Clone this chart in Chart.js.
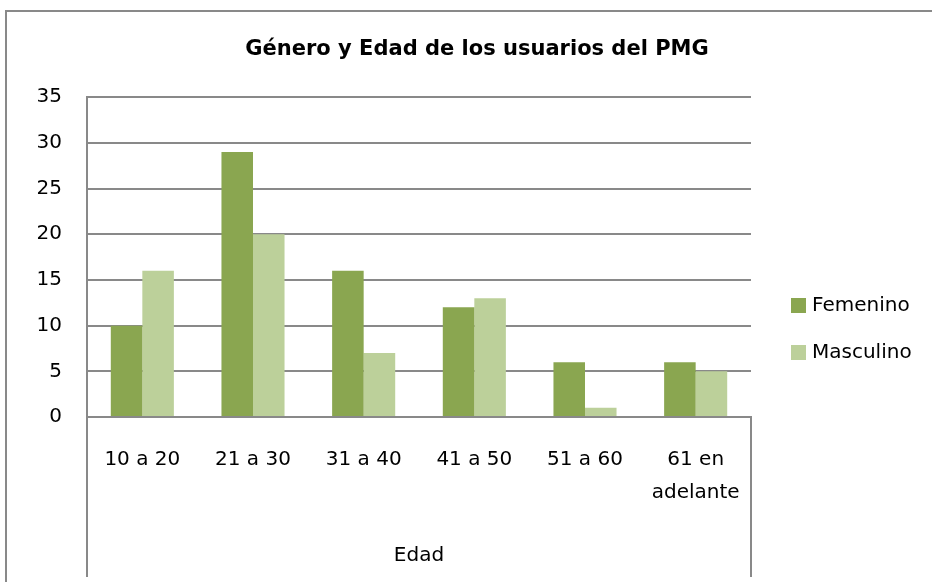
<!doctype html>
<html>

<head>
    <meta charset="utf-8">
    <title>Género y Edad</title>
    <script src="https://cdn.jsdelivr.net/npm/chart.js"></script>
    <style>
        body { margin: 0; background: #fff; }
    </style>
</head>

<body>

    <canvas id="edad" width="932" height="582"></canvas>

    <script>
        var categorias = ['10 a 20', '21 a 30', '31 a 40', '41 a 50', '51 a 60', ['61 en', 'adelante']];
        var femenino = [10, 29, 16, 12, 6, 6];
        var masculino = [16, 20, 7, 13, 1, 5];
        var ticksY = [0, 5, 10, 15, 20, 25, 30, 35];

        var gris = '#898989';
        var fuente = 'DejaVu Sans';

        // caja a la derecha para la leyenda, asi el titulo queda centrado en todo el ancho
        var leyenda = {
            id: 'leyenda',
            beforeInit: function (chart) {
                Chart.layouts.addBox(chart, {
                    position: 'right',
                    weight: 0,
                    fullSize: false,
                    options: {},
                    isHorizontal: function () { return false; },
                    update: function (maxW, maxH) { this.width = 181; this.height = maxH; },
                    draw: function () {}
                });
            },
            afterDraw: function (chart) {
                var ctx = chart.ctx;
                var area = chart.chartArea;
                ctx.save();
                ctx.font = '20px ' + fuente;
                ctx.textBaseline = 'middle';
                chart.data.datasets.forEach(function (ds, i) {
                    var x = area.right + 40;
                    var y = 306 + i * 47;
                    ctx.fillStyle = ds.backgroundColor;
                    ctx.fillRect(x, y - 8, 15, 15);
                    ctx.fillStyle = '#000';
                    ctx.fillText(ds.label, x + 21, y);
                });
                ctx.restore();
            }
        };

        // marco exterior y lineas de la categoria "Edad"
        var marco = {
            id: 'marco',
            afterDraw: function (chart) {
                var ctx = chart.ctx;
                var area = chart.chartArea;
                ctx.save();
                ctx.strokeStyle = gris;
                ctx.lineWidth = 2;
                ctx.beginPath();
                ctx.moveTo(6, chart.height);
                ctx.lineTo(6, 11);
                ctx.lineTo(chart.width, 11);
                ctx.moveTo(area.left, area.bottom);
                ctx.lineTo(area.left, area.bottom + 160);
                ctx.moveTo(area.right, area.bottom - 1);
                ctx.lineTo(area.right, area.bottom + 160);
                ctx.stroke();
                ctx.restore();
            }
        };

        var grafico = new Chart(document.getElementById('edad').getContext('2d'), {
            type: 'bar',
            data: {
                labels: categorias,
                datasets: [{
                    label: 'Femenino',
                    backgroundColor: '#8aa650',
                    data: femenino
                }, {
                    label: 'Masculino',
                    backgroundColor: '#bcd09a',
                    data: masculino
                }]
            },
            options: {
                responsive: false,
                animation: false,
                layout: { padding: { left: 22, top: 0, right: 0, bottom: 0 } },
                datasets: {
                    bar: { categoryPercentage: 0.57, barPercentage: 1.0 }
                },
                plugins: {
                    legend: { display: false },
                    tooltip: { enabled: false },
                    title: {
                        display: true,
                        text: 'Género y Edad de los usuarios del PMG',
                        color: '#000',
                        font: { family: fuente, size: 21, weight: 'bold' },
                        padding: { top: 37, bottom: 35 }
                    }
                },
                scales: {
                    x: {
                        grid: { display: false, drawTicks: false },
                        border: { display: true, color: gris, width: 2 },
                        ticks: {
                            color: '#000',
                            padding: 26,
                            maxRotation: 0,
                            autoSkip: false,
                            font: { family: fuente, size: 20, lineHeight: 1.65 }
                        },
                        title: {
                            display: true,
                            text: 'Edad',
                            color: '#000',
                            font: { family: fuente, size: 20 },
                            padding: { top: 0, bottom: 14 }
                        },
                        afterFit: function (scale) { scale.height = 165; }
                    },
                    y: {
                        min: 0,
                        max: 35,
                        afterBuildTicks: function (scale) {
                            scale.ticks = ticksY.map(function (v) { return { value: v }; });
                        },
                        grid: { color: gris, lineWidth: 2, drawTicks: false },
                        border: { display: true, color: gris, width: 2 },
                        ticks: {
                            color: '#000',
                            padding: 25,
                            font: { family: fuente, size: 20 }
                        },
                        afterFit: function (scale) { scale.width = 65; }
                    }
                }
            },
            plugins: [leyenda, marco]
        });
    </script>
</body>

</html>
